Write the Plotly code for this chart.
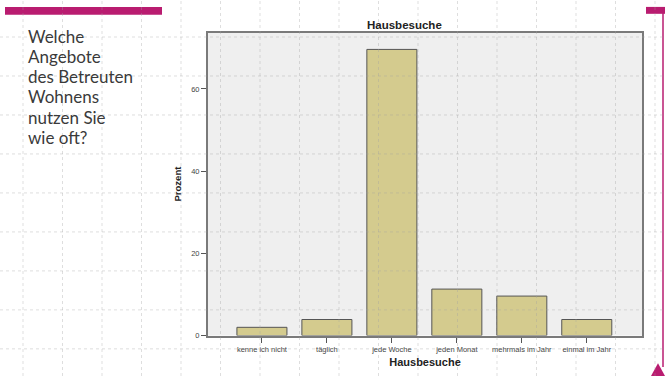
import plotly.graph_objects as go

# Survey answers: how often are home visits used (percent of respondents)
categories = ["kenne ich nicht", "täglich", "jede Woche", "jeden Monat",
              "mehrmals im Jahr", "einmal im Jahr"]
percent = [2.0, 3.9, 69.6, 11.3, 9.6, 3.9]
y_ticks = [0, 20, 40, 60]

question_lines = ["Welche", "Angebote", "des Betreuten", "Wohnens",
                  "nutzen Sie", "wie oft?"]

W, H = 665, 381
MAGENTA = "#b91c70"
SANS = "Liberation Sans, Arial, sans-serif"


def px(x):
    return x / W


def py(y):
    return 1 - y / H


fig = go.Figure(
    go.Bar(
        x=categories,
        y=percent,
        width=0.77,
        marker=dict(color="#d4cb8e", line=dict(color="#555555", width=1)),
        hoverinfo="x+y",
    )
)

axis_font = dict(family=SANS, size=7.5, color="#444444")

fig.update_layout(
    width=W,
    height=H,
    margin=dict(l=0, r=0, t=0, b=0),
    paper_bgcolor="white",
    plot_bgcolor="#efefef",
    showlegend=False,
    xaxis=dict(
        domain=[px(208), px(642)],
        range=[-0.83, 5.85],
        showline=True, mirror=True, linecolor="#7a7a7a", linewidth=2,
        ticks="outside", ticklen=5, tickcolor="#555555",
        showgrid=False, tickfont=axis_font,
        title=dict(text="<b>Hausbesuche</b>", standoff=6,
                   font=dict(family=SANS, size=11, color="#222222")),
    ),
    yaxis=dict(
        domain=[py(340), py(33)],
        range=[0, 73.7],
        tickvals=y_ticks,
        showline=True, mirror=True, linecolor="#7a7a7a", linewidth=2,
        ticks="outside", ticklen=5, tickcolor="#555555",
        showgrid=False, zeroline=False, tickfont=axis_font,
        title=dict(text="<b>Prozent</b>", standoff=8,
                   font=dict(family=SANS, size=9.5, color="#222222")),
    ),
)

# chart title
fig.add_annotation(
    text="<b>Hausbesuche</b>", xref="paper", yref="paper",
    x=px(404), y=py(25), xanchor="center", yanchor="middle", showarrow=False,
    font=dict(family=SANS, size=11.5, color="#222222"),
)

# question text on the left of the slide
for i, line in enumerate(question_lines):
    fig.add_annotation(
        text=line, xref="paper", yref="paper",
        x=px(26), y=py(37 + i * 20.4), xanchor="left", yanchor="middle",
        showarrow=False,
        font=dict(family="Lato, sans-serif", size=17, color="#3a3a3a"),
    )

shapes = []
# slide decoration: magenta bars, right edge line and corner marker
shapes.append(dict(type="rect", xref="paper", yref="paper",
                   x0=px(5), x1=px(162), y0=py(15), y1=py(7),
                   fillcolor=MAGENTA, line=dict(width=0), layer="below"))
shapes.append(dict(type="rect", xref="paper", yref="paper",
                   x0=px(646), x1=px(665), y0=py(14), y1=py(7),
                   fillcolor=MAGENTA, line=dict(width=0), layer="below"))
shapes.append(dict(type="line", xref="paper", yref="paper",
                   x0=px(663), x1=px(663), y0=py(7), y1=py(372),
                   line=dict(color=MAGENTA, width=1.5), layer="below"))
shapes.append(dict(type="path", xref="paper", yref="paper",
                   path=f"M {px(651)} {py(381)} L {px(658)} {py(368)} L {px(665)} {py(381)} Z",
                   fillcolor=MAGENTA, line=dict(width=0), layer="above"))

# faint dotted guide grid over the slide
grid_line = dict(color="rgba(160,160,160,0.35)", width=1, dash="dot")
step = 39.5
gx = 23.0
while gx < W:
    shapes.append(dict(type="line", xref="paper", yref="paper",
                       x0=px(gx), x1=px(gx), y0=0, y1=1,
                       line=grid_line, layer="above"))
    gx += step
gy = 37.5
while gy < H:
    shapes.append(dict(type="line", xref="paper", yref="paper",
                       x0=0, x1=1, y0=py(gy), y1=py(gy),
                       line=grid_line, layer="above"))
    gy += step

fig.update_layout(shapes=shapes)

fig.write_html("out.html")
